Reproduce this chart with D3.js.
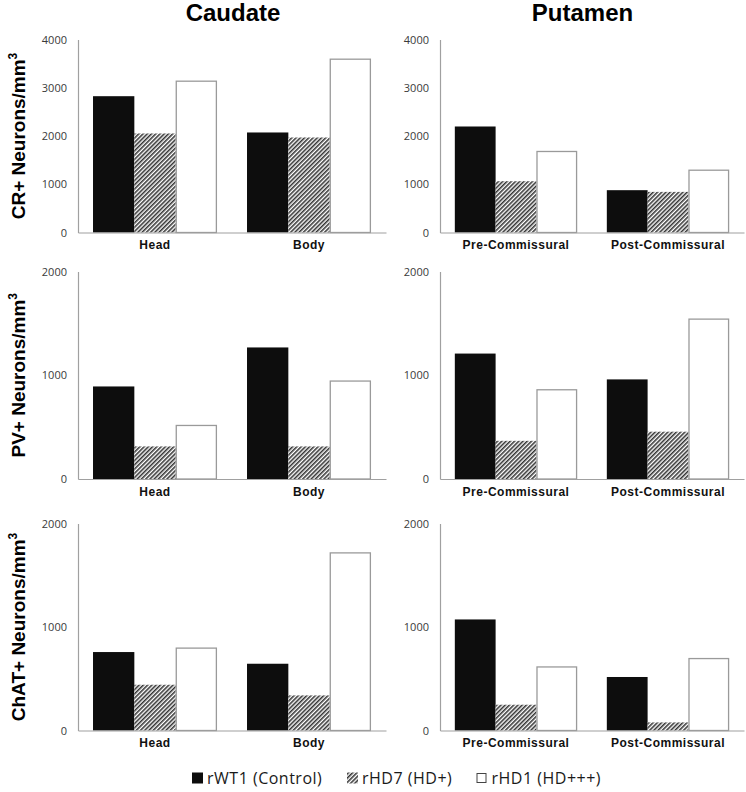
<!DOCTYPE html>
<html>
<head>
<meta charset="utf-8">
<script src="https://cdn.jsdelivr.net/npm/d3@7/dist/d3.min.js"></script>
<style>
  body { margin: 0; background: #fff; }
  svg { display: block; }
</style>
</head>
<body>
<script>
// ---- data ----
const series = ["rWT1 (Control)", "rHD7 (HD+)", "rHD1 (HD+++)"];
const caudateCats = ["Head", "Body"];
const putamenCats = ["Pre-Commissural", "Post-Commissural"];
const regionTitles = ["Caudate", "Putamen"];
const markerTitles = ["CR+", "PV+", "ChAT+"];

// values per category: [rWT1, rHD7, rHD1]
const crCaudate  = [[2825, 2052, 3136], [2073, 1969, 3592]];
const crPutamen  = [[2197, 1063, 1679], [877, 842, 1291]];
const pvCaudate  = [[892, 314, 516], [1268, 314, 944]];
const pvPutamen  = [[1209, 368, 860], [960, 456, 1541]];
const chatCaudate = [[758, 442, 796], [645, 339, 1716]];
const chatPutamen = [[1073, 249, 614], [517, 78, 695]];

const ticksTop = [0, 1000, 2000, 3000, 4000];
const ticksLow = [0, 1000, 2000];

// ---- layout ----
const W = 746, H = 792;
const svg = d3.select("body").append("svg").attr("width", W).attr("height", H);

const defs = svg.append("defs");
const pat = defs.append("pattern")
  .attr("id", "hatch").attr("patternUnits", "userSpaceOnUse")
  .attr("width", 3).attr("height", 3)
  .attr("patternTransform", "rotate(45)");
pat.append("rect").attr("width", 3).attr("height", 3).attr("fill", "#fff");
pat.append("line").attr("x1", 0.8).attr("y1", 0).attr("x2", 0.8).attr("y2", 3)
  .attr("stroke", "#2a2a2a").attr("stroke-width", 1.5);

const cols = [{x0: 78, x1: 386, cats: caudateCats}, {x0: 440, x1: 744, cats: putamenCats}];
const rows = [
  {top: 39.5, zero: 232.5, max: 4000, ticks: ticksTop, data: [crCaudate, crPutamen]},
  {top: 271.5, zero: 479, max: 2000, ticks: ticksLow, data: [pvCaudate, pvPutamen]},
  {top: 523.5, zero: 730.5, max: 2000, ticks: ticksLow, data: [chatCaudate, chatPutamen]}
];

const fills = ["#0d0d0d", "url(#hatch)", "#ffffff"];
const strokes = ["none", "none", "#9a9a9a"];

rows.forEach((row, ri) => {
  cols.forEach((col, ci) => {
    const g = svg.append("g");
    const y = d3.scaleLinear().domain([0, row.max]).range([row.zero, row.top]);
    const x = d3.scaleBand().domain(col.cats).range([col.x0, col.x1])
      .paddingInner(0.195).paddingOuter(0.0975);
    const xs = d3.scaleBand().domain(d3.range(series.length)).range([0, x.bandwidth()]);

    const vals = row.data[ci];
    col.cats.forEach((c, i) => {
      vals[i].forEach((v, s) => {
        g.append("rect")
          .attr("x", x(c) + xs(s) + (s === 2 ? 0.6 : 0))
          .attr("y", y(v))
          .attr("width", xs.bandwidth() - (s === 2 ? 1.2 : 0))
          .attr("height", row.zero - y(v))
          .attr("fill", fills[s])
          .attr("stroke", strokes[s])
          .attr("stroke-width", 1.3);
      });
    });

    // y axis
    const ya = g.append("g").attr("transform", `translate(${col.x0},0)`)
      .call(d3.axisLeft(y).tickValues(row.ticks).tickSize(0).tickPadding(11).tickFormat(d3.format("d")));
    ya.select(".domain").attr("stroke", "#a0a0a0").attr("stroke-width", 1.2);
    ya.selectAll(".tick text")
      .attr("font-family", "'Open Sans', sans-serif")
      .attr("font-size", 11).attr("fill", "#3a3a3a");

    // x axis
    const xa = g.append("g").attr("transform", `translate(0,${row.zero})`)
      .call(d3.axisBottom(x).tickSize(0).tickPadding(8).tickSizeOuter(0));
    xa.select(".domain").attr("stroke", "#a0a0a0").attr("stroke-width", 1.2);
    xa.selectAll(".tick text")
      .attr("font-family", "'Liberation Sans', Arial, sans-serif")
      .attr("font-weight", "bold").attr("font-size", 12)
      .attr("letter-spacing", "0.5px").attr("fill", "#111");
  });

  // y-axis title
  const cy = (row.top + row.zero) / 2;
  const t = svg.append("text")
    .attr("transform", `translate(25,${cy}) rotate(-90)`)
    .attr("text-anchor", "middle")
    .attr("font-family", "'Liberation Sans', Arial, sans-serif")
    .attr("font-weight", "bold").attr("font-size", 19).attr("fill", "#000");
  t.append("tspan").text(markerTitles[ri] + " Neurons/mm");
  t.append("tspan").text("3").attr("font-size", 12).attr("dy", -8);
});

// column titles
const titleX = [233, 582.5];
regionTitles.forEach((tt, i) => {
  svg.append("text").attr("x", titleX[i]).attr("y", 21)
    .attr("text-anchor", "middle")
    .attr("font-family", "'Liberation Sans', Arial, sans-serif")
    .attr("font-weight", "bold").attr("font-size", 24).attr("fill", "#000")
    .text(tt);
});

// legend
const legIconX = [192, 347, 477];
const legTextX = [207, 362, 491.5];
const lg = svg.append("g");
series.forEach((s, i) => {
  const sw = i === 2 ? 9 : 11;
  lg.append("rect")
    .attr("x", legIconX[i]).attr("y", 778 - sw / 2)
    .attr("width", sw).attr("height", sw)
    .attr("fill", fills[i])
    .attr("stroke", i === 2 ? "#444" : "none").attr("stroke-width", 1);
  lg.append("text")
    .attr("x", legTextX[i]).attr("y", 784)
    .attr("font-family", "'Open Sans', sans-serif").attr("font-size", 16)
    .attr("letter-spacing", "0.5px")
    .attr("fill", "#1a1a1a")
    .text(s);
});
</script>
</body>
</html>
